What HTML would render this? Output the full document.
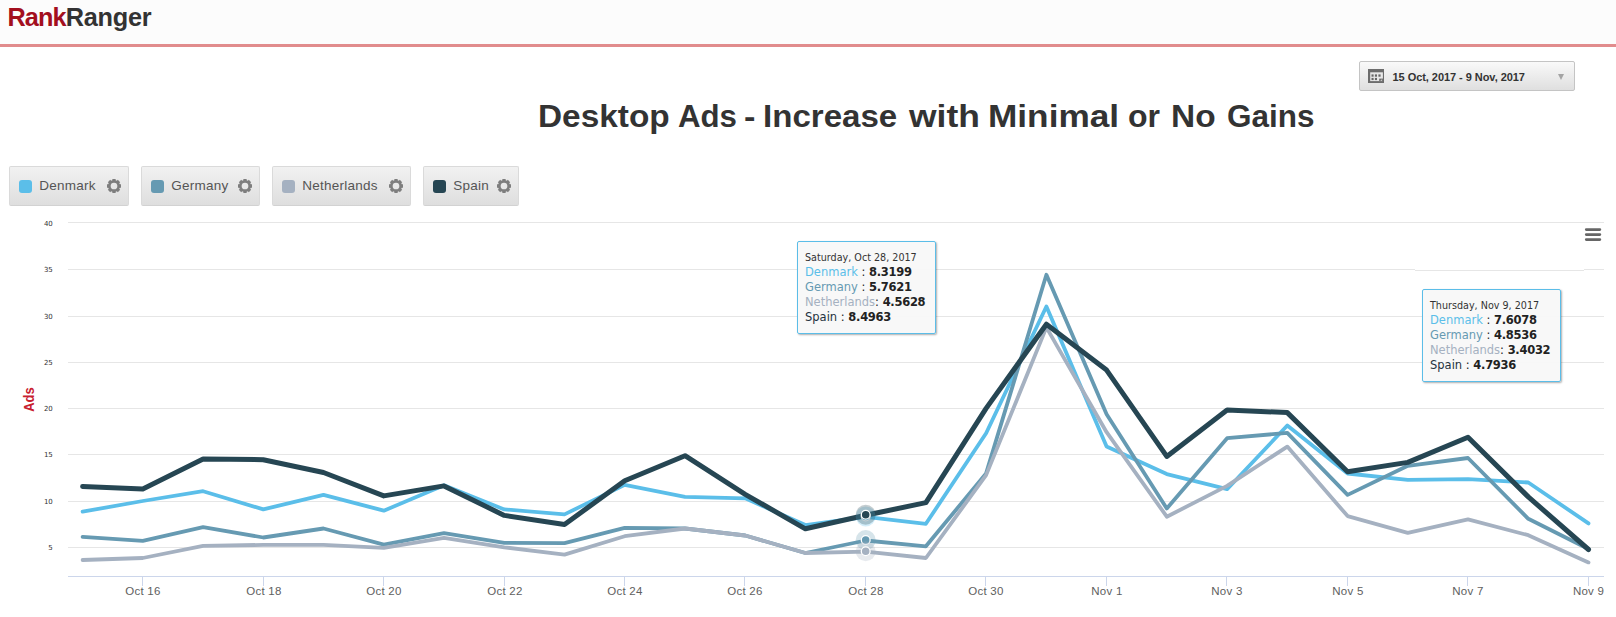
<!DOCTYPE html>
<html><head><meta charset="utf-8"><title>Rank Ranger</title>
<style>
*{box-sizing:border-box}
html,body{margin:0;padding:0;background:#fff}
body{width:1616px;height:617px;position:relative;overflow:hidden;font-family:"Liberation Sans",sans-serif}
.hdr{position:absolute;left:0;top:0;width:1616px;height:44px;background:#fcfcfc}
.hl{position:absolute;left:0;top:44px;width:1616px;height:3px;background:#e18c8d}
.logo{position:absolute;left:7.5px;top:2.2px;font-size:25.3px;line-height:30px;font-weight:bold;letter-spacing:-0.28px;color:#333;white-space:nowrap;transform-origin:0 0}
.logo i{font-style:normal;color:#a30f1e;letter-spacing:-0.9px}
.title{position:absolute;left:0;top:97px;width:1616px;height:38px;font-size:31.5px;line-height:38px;font-weight:bold;color:#333;white-space:nowrap}
.title span{position:absolute;top:0;display:block;transform-origin:0 0}
.dp{position:absolute;left:1359px;top:61px;width:216px;height:30px;border:1px solid #c4c4c4;border-radius:2px;background:linear-gradient(#f9f9f9,#dfdfdf);}
.dp .tx{position:absolute;left:32.5px;top:0.5px;line-height:29px;font-size:11px;letter-spacing:-0.05px;font-weight:bold;color:#333;white-space:nowrap}
.dp .ar{position:absolute;left:197.8px;top:12px;width:0;height:0;border-left:3.3px solid transparent;border-right:3.3px solid transparent;border-top:6.3px solid #a4a4a4}
.dp svg{position:absolute;left:8px;top:7px}
.lb{position:absolute;top:166px;height:40px;border:1px solid #dadada;border-bottom-color:#d2d2d2;border-radius:2px;background:linear-gradient(#f1f1f1,#dedede)}
.sw{position:absolute;left:9px;top:13px;width:13px;height:13px;border-radius:3px}
.ln{position:absolute;left:29.3px;top:-0.3px;line-height:38px;font-size:13.5px;letter-spacing:0.25px;color:#555;white-space:nowrap}
.gear{position:absolute;right:7px;top:12px}
.chart{position:absolute;left:0;top:0}
.yl{font-family:"DejaVu Sans",sans-serif;font-size:7px;fill:#333}
.xl{font-family:"Liberation Sans",sans-serif;font-size:11.5px;letter-spacing:0.25px;fill:#606060}
.ads{font-family:"Liberation Sans",sans-serif;font-size:14.4px;font-weight:bold;fill:#c8202f}
.tip{position:absolute;border:1px solid #5bbde8;border-radius:2px;background:rgba(248,248,248,.95);box-shadow:1px 1px 2px rgba(0,0,0,.32);font-family:"DejaVu Sans",sans-serif;color:#222;padding:0 0 0 7px;white-space:nowrap}
.tip .dt{font-size:9.6px;line-height:12.7px;margin-top:10.2px;color:#333}
.tip .r{font-size:11.5px;line-height:15px;white-space:pre}
.tip .r b{color:#222;letter-spacing:-0.28px}
</style></head><body>
<div class="hdr"></div><div class="hl"></div>
<div class="logo"><i>Rank</i>Ranger</div>
<div class="dp"><svg width="16" height="14" viewBox="0 0 16 14"><rect x="0" y="0" width="16" height="14" fill="#6c6c6c"/><rect x="2.2" y="3.3" width="12.7" height="8.8" fill="#e8e8e8"/><g fill="#666"><rect x="3.5" y="5.4" width="2.1" height="2.3"/><rect x="6.9" y="5.4" width="2.1" height="2.3"/><rect x="10.4" y="5.4" width="2.2" height="2.3"/><rect x="3.5" y="8.9" width="2.1" height="2.2"/><rect x="6.9" y="8.9" width="2.1" height="2.2"/></g><rect x="11.2" y="9.6" width="3.8" height="2.6" fill="#6c6c6c"/><path d="M12.2 11.7l1.9-1.5v1.5z" fill="#e4e4e4"/></svg><span class="tx">15 Oct, 2017 - 9 Nov, 2017</span><span class="ar"></span></div>
<div class="title"><span style="left:538.3px;transform:scaleX(1.060)">Desktop</span><span style="left:677.5px;transform:scaleX(0.991)">Ads</span><span style="left:744.2px;transform:scaleX(1.088)">-</span><span style="left:763.0px;transform:scaleX(1.050)">Increase</span><span style="left:909.1px;transform:scaleX(1.125)">with</span><span style="left:988.0px;transform:scaleX(1.118)">Minimal</span><span style="left:1128.0px;transform:scaleX(1.017)">or</span><span style="left:1171.0px;transform:scaleX(1.062)">No</span><span style="left:1226.6px;transform:scaleX(0.999)">Gains</span></div>
<div class="lb" style="left:9px;width:120px"><span class="sw" style="background:#5bbee9"></span><span class="ln">Denmark</span><svg class="gear" width="14" height="14" viewBox="0 0 14 14"><g fill="none" stroke="#7e7e7e"><circle cx="7" cy="7" r="4.7" stroke-width="2.7"/><path stroke-width="3.3" d="M12.00 7.00L14.05 7.00M10.54 10.54L11.99 11.99M7.00 12.00L7.00 14.05M3.46 10.54L2.01 11.99M2.00 7.00L-0.05 7.00M3.46 3.46L2.01 2.01M7.00 2.00L7.00 -0.05M10.54 3.46L11.99 2.01"/></g></svg></div>
<div class="lb" style="left:141px;width:119px"><span class="sw" style="background:#669ab2"></span><span class="ln">Germany</span><svg class="gear" width="14" height="14" viewBox="0 0 14 14"><g fill="none" stroke="#7e7e7e"><circle cx="7" cy="7" r="4.7" stroke-width="2.7"/><path stroke-width="3.3" d="M12.00 7.00L14.05 7.00M10.54 10.54L11.99 11.99M7.00 12.00L7.00 14.05M3.46 10.54L2.01 11.99M2.00 7.00L-0.05 7.00M3.46 3.46L2.01 2.01M7.00 2.00L7.00 -0.05M10.54 3.46L11.99 2.01"/></g></svg></div>
<div class="lb" style="left:272px;width:139px"><span class="sw" style="background:#a5b1c1"></span><span class="ln">Netherlands</span><svg class="gear" width="14" height="14" viewBox="0 0 14 14"><g fill="none" stroke="#7e7e7e"><circle cx="7" cy="7" r="4.7" stroke-width="2.7"/><path stroke-width="3.3" d="M12.00 7.00L14.05 7.00M10.54 10.54L11.99 11.99M7.00 12.00L7.00 14.05M3.46 10.54L2.01 11.99M2.00 7.00L-0.05 7.00M3.46 3.46L2.01 2.01M7.00 2.00L7.00 -0.05M10.54 3.46L11.99 2.01"/></g></svg></div>
<div class="lb" style="left:423px;width:96px"><span class="sw" style="background:#264653"></span><span class="ln">Spain</span><svg class="gear" width="14" height="14" viewBox="0 0 14 14"><g fill="none" stroke="#7e7e7e"><circle cx="7" cy="7" r="4.7" stroke-width="2.7"/><path stroke-width="3.3" d="M12.00 7.00L14.05 7.00M10.54 10.54L11.99 11.99M7.00 12.00L7.00 14.05M3.46 10.54L2.01 11.99M2.00 7.00L-0.05 7.00M3.46 3.46L2.01 2.01M7.00 2.00L7.00 -0.05M10.54 3.46L11.99 2.01"/></g></svg></div>
<svg class="chart" width="1616" height="617" viewBox="0 0 1616 617">
<line x1="68" x2="1604" y1="222.5" y2="222.5" stroke="#e6e6e6" stroke-width="1"/>
<text x="52.8" y="226.1" text-anchor="end" class="yl">40</text>
<path d="M68 269.5H1415M1415 270.5H1584M1584 269.5H1604" stroke="#e6e6e6" stroke-width="1" fill="none"/>
<text x="52.8" y="271.8" text-anchor="end" class="yl">35</text>
<line x1="68" x2="1604" y1="316.5" y2="316.5" stroke="#e6e6e6" stroke-width="1"/>
<text x="52.8" y="318.8" text-anchor="end" class="yl">30</text>
<line x1="68" x2="1604" y1="362.5" y2="362.5" stroke="#e6e6e6" stroke-width="1"/>
<text x="52.8" y="364.8" text-anchor="end" class="yl">25</text>
<line x1="68" x2="1604" y1="408.5" y2="408.5" stroke="#e6e6e6" stroke-width="1"/>
<text x="52.8" y="410.8" text-anchor="end" class="yl">20</text>
<line x1="68" x2="1604" y1="454.5" y2="454.5" stroke="#e6e6e6" stroke-width="1"/>
<text x="52.8" y="456.8" text-anchor="end" class="yl">15</text>
<line x1="68" x2="1604" y1="501.5" y2="501.5" stroke="#e6e6e6" stroke-width="1"/>
<text x="52.8" y="503.8" text-anchor="end" class="yl">10</text>
<line x1="68" x2="1604" y1="547.5" y2="547.5" stroke="#e6e6e6" stroke-width="1"/>
<text x="52.8" y="549.8" text-anchor="end" class="yl">5</text>

<line x1="68" x2="1604" y1="576.5" y2="576.5" stroke="#ccd6eb"/>
<line x1="142.5" x2="142.5" y1="576" y2="586" stroke="#ccd6eb"/>
<text x="142.9" y="595" text-anchor="middle" class="xl">Oct 16</text>
<line x1="263.5" x2="263.5" y1="576" y2="586" stroke="#ccd6eb"/>
<text x="263.9" y="595" text-anchor="middle" class="xl">Oct 18</text>
<line x1="383.5" x2="383.5" y1="576" y2="586" stroke="#ccd6eb"/>
<text x="383.9" y="595" text-anchor="middle" class="xl">Oct 20</text>
<line x1="504.5" x2="504.5" y1="576" y2="586" stroke="#ccd6eb"/>
<text x="504.9" y="595" text-anchor="middle" class="xl">Oct 22</text>
<line x1="624.5" x2="624.5" y1="576" y2="586" stroke="#ccd6eb"/>
<text x="624.9" y="595" text-anchor="middle" class="xl">Oct 24</text>
<line x1="744.5" x2="744.5" y1="576" y2="586" stroke="#ccd6eb"/>
<text x="744.9" y="595" text-anchor="middle" class="xl">Oct 26</text>
<line x1="865.5" x2="865.5" y1="576" y2="586" stroke="#ccd6eb"/>
<text x="865.9" y="595" text-anchor="middle" class="xl">Oct 28</text>
<line x1="985.5" x2="985.5" y1="576" y2="586" stroke="#ccd6eb"/>
<text x="985.9" y="595" text-anchor="middle" class="xl">Oct 30</text>
<line x1="1106.5" x2="1106.5" y1="576" y2="586" stroke="#ccd6eb"/>
<text x="1106.9" y="595" text-anchor="middle" class="xl">Nov 1</text>
<line x1="1226.5" x2="1226.5" y1="576" y2="586" stroke="#ccd6eb"/>
<text x="1226.9" y="595" text-anchor="middle" class="xl">Nov 3</text>
<line x1="1347.5" x2="1347.5" y1="576" y2="586" stroke="#ccd6eb"/>
<text x="1347.9" y="595" text-anchor="middle" class="xl">Nov 5</text>
<line x1="1467.5" x2="1467.5" y1="576" y2="586" stroke="#ccd6eb"/>
<text x="1467.9" y="595" text-anchor="middle" class="xl">Nov 7</text>
<line x1="1588.5" x2="1588.5" y1="576" y2="586" stroke="#ccd6eb"/>
<text x="1604.2" y="595" text-anchor="end" class="xl">Nov 9</text>

<text class="ads" transform="translate(34.1,411.8) rotate(-90) scale(0.9,1)">Ads</text>
<g fill="none" stroke-linejoin="round" stroke-linecap="round">
<polyline points="82.6,511.7 142.8,501.0 203.1,491.2 263.3,509.4 323.5,494.9 383.8,510.7 444.0,485.2 504.3,509.4 564.5,514.4 624.7,484.9 685.0,496.9 745.2,498.3 805.4,525.1 865.7,516.8 925.9,523.8 986.1,433.2 1046.4,306.5 1106.6,446.6 1166.8,474.1 1227.1,489.2 1287.3,425.5 1347.6,473.5 1407.8,479.8 1468.0,479.2 1528.3,482.5 1588.5,523.4" stroke="#5bbee9" stroke-width="3.8"/>
<polyline points="82.6,536.9 142.8,540.9 203.1,527.1 263.3,537.5 323.5,528.5 383.8,544.6 444.0,533.2 504.3,542.9 564.5,543.2 624.7,527.8 685.0,528.5 745.2,535.5 805.4,553.0 865.7,540.5 925.9,546.3 986.1,473.4 1046.4,274.8 1106.6,414.3 1166.8,508.4 1227.1,438.2 1287.3,432.9 1347.6,494.9 1407.8,465.8 1468.0,458.0 1528.3,518.8 1588.5,549.0" stroke="#669ab2" stroke-width="3.8"/>
<polyline points="82.6,560.0 142.8,558.0 203.1,545.9 263.3,544.9 323.5,544.9 383.8,547.9 444.0,537.9 504.3,547.3 564.5,554.6 624.7,536.2 685.0,528.5 745.2,535.5 805.4,553.0 865.7,551.7 925.9,558.0 986.1,475.1 1046.4,327.4 1106.6,432.2 1166.8,516.7 1227.1,485.9 1287.3,446.6 1347.6,516.1 1407.8,532.8 1468.0,519.4 1528.3,535.2 1588.5,562.4" stroke="#a5b1c1" stroke-width="3.8"/>
<polyline points="82.6,486.5 142.8,488.9 203.1,459.0 263.3,459.7 323.5,472.5 383.8,495.9 444.0,485.9 504.3,515.4 564.5,524.5 624.7,480.8 685.0,455.7 745.2,494.3 805.4,528.8 865.7,515.2 925.9,502.6 986.1,408.4 1046.4,324.2 1106.6,370.1 1166.8,456.4 1227.1,410.0 1287.3,412.6 1347.6,471.8 1407.8,462.4 1468.0,437.2 1528.3,496.9 1588.5,549.5" stroke="#264653" stroke-width="5"/>
</g>
<circle cx="865.7" cy="516.4" r="10" fill="#5bbee9" fill-opacity="0.27"/><circle cx="865.7" cy="516.4" r="4.4" fill="#5bbee9" stroke="#fff" stroke-width="1.3"/>
<circle cx="865.7" cy="540.1" r="10" fill="#669ab2" fill-opacity="0.27"/><circle cx="865.7" cy="540.1" r="4.4" fill="#669ab2" stroke="#fff" stroke-width="1.3"/>
<circle cx="865.7" cy="551.3" r="10" fill="#a5b1c1" fill-opacity="0.27"/><circle cx="865.7" cy="551.3" r="4.4" fill="#a5b1c1" stroke="#fff" stroke-width="1.3"/>
<circle cx="865.7" cy="514.8" r="10" fill="#264653" fill-opacity="0.27"/><circle cx="865.7" cy="514.8" r="4.4" fill="#264653" stroke="#fff" stroke-width="1.3"/>
<path d="M1586.3 229.6H1599.8M1586.3 234.6H1599.8M1586.3 239.6H1599.8" stroke="#666" stroke-width="2.9" stroke-linecap="round" fill="none"/>
</svg>
<div class="tip" style="left:797px;top:241px;width:139px;height:93px"><div class="dt">Saturday, Oct 28, 2017</div><div class="r"><span style="color:#5bbee9">Denmark</span> : <b>8.3199</b></div><div class="r"><span style="color:#669ab2">Germany</span> : <b>5.7621</b></div><div class="r"><span style="color:#a5b1c1">Netherlands</span>: <b>4.5628</b></div><div class="r"><span style="color:#1f3340">Spain</span> : <b>8.4963</b></div></div>
<div class="tip" style="left:1422px;top:289px;width:139px;height:93px"><div class="dt">Thursday, Nov 9, 2017</div><div class="r"><span style="color:#5bbee9">Denmark</span> : <b>7.6078</b></div><div class="r"><span style="color:#669ab2">Germany</span> : <b>4.8536</b></div><div class="r"><span style="color:#a5b1c1">Netherlands</span>: <b>3.4032</b></div><div class="r"><span style="color:#1f3340">Spain</span> : <b>4.7936</b></div></div>
</body></html>
